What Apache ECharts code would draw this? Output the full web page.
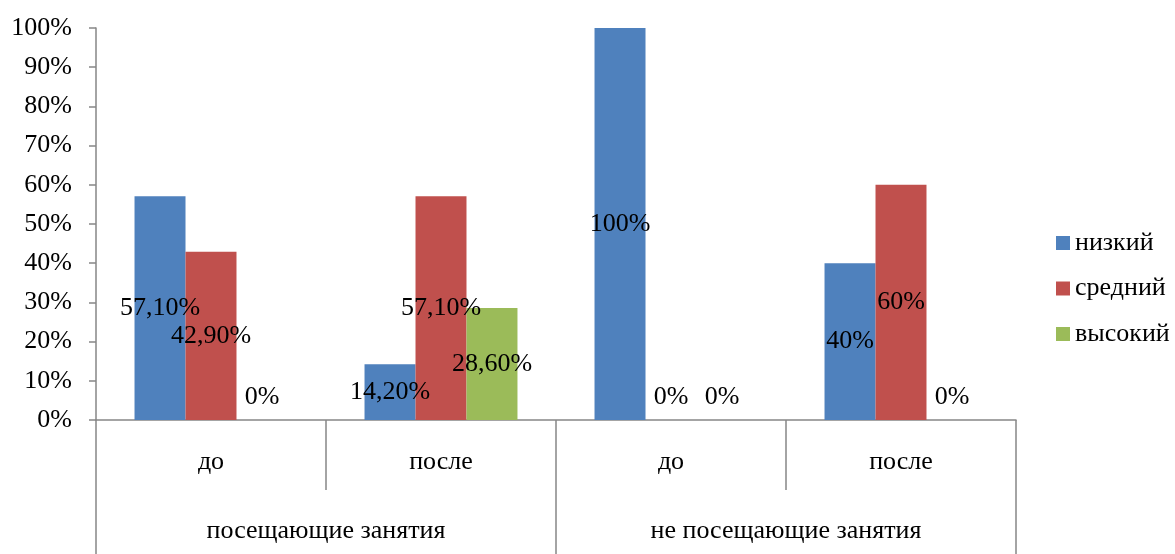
<!DOCTYPE html>
<html>
<head>
<meta charset="utf-8">
<script src="https://cdn.jsdelivr.net/npm/echarts@6/dist/echarts.min.js"></script>
<style>
html,body{margin:0;padding:0;background:#fff;}
#c{width:1175px;height:554px;}
</style>
</head>
<body>
<div id="c"></div>
<script>
const subCategories = ['до', 'после', 'до', 'после'];
const groupCategories = ['посещающие занятия', 'не посещающие занятия'];
const seriesNames = ['низкий', 'средний', 'высокий'];
const lowValues = [57.1, 14.2, 100, 40];
const midValues = [42.9, 57.1, 0, 60];
const highValues = [0, 28.6, 0, 0];
const yTicks = [0, 10, 20, 30, 40, 50, 60, 70, 80, 90, 100];

const colors = ['#4F81BD', '#C0504D', '#9BBB59'];
const FONT = '"Liberation Serif", "Times New Roman", serif';
const FS = 26;
const AXIS_COLOR = '#868686';

function fmt(v) {
  return (v % 1 === 0 ? String(v) : v.toFixed(2).replace('.', ',')) + '%';
}

function buildData(values) {
  return values.map(v => v === 0
    ? { value: v, label: { position: 'top', distance: 10 } }
    : v);
}

const allValues = [lowValues, midValues, highValues];

const chart = echarts.init(document.getElementById('c'), null, { renderer: 'canvas' });
chart.setOption({
  animation: false,
  backgroundColor: '#fff',
  color: colors,
  grid: { left: 96, right: 159, top: 28, bottom: 134, containLabel: false },
  legend: {
    orient: 'vertical',
    left: 1056,
    top: 230,
    padding: 0,
    itemWidth: 14,
    itemHeight: 14,
    itemGap: 19.5,
    icon: 'rect',
    data: seriesNames,
    textStyle: { fontFamily: FONT, fontSize: FS, color: '#000' }
  },
  xAxis: [
    {
      type: 'category',
      data: subCategories,
      position: 'bottom',
      axisLine: { show: true, lineStyle: { color: AXIS_COLOR, width: 1.5 } },
      axisTick: { show: true, length: 70, interval: 0, alignWithLabel: false, lineStyle: { color: AXIS_COLOR, width: 1.5 } },
      axisLabel: { margin: 29, fontFamily: FONT, fontSize: FS, color: '#000', interval: 0 }
    },
    {
      type: 'category',
      data: groupCategories,
      position: 'bottom',
      axisLine: { show: false },
      axisTick: { show: true, length: 134, interval: 0, alignWithLabel: false, lineStyle: { color: AXIS_COLOR, width: 1.5 } },
      axisLabel: { margin: 98, fontFamily: FONT, fontSize: FS, color: '#000', interval: 0 }
    }
  ],
  yAxis: {
    type: 'value',
    min: yTicks[0],
    max: yTicks[yTicks.length - 1],
    interval: yTicks[1] - yTicks[0],
    splitLine: { show: false },
    axisLine: { show: true, lineStyle: { color: AXIS_COLOR, width: 1.5 } },
    axisTick: { show: true, length: 7, lineStyle: { color: AXIS_COLOR, width: 1.5 } },
    axisLabel: {
      margin: 24,
      fontFamily: FONT,
      fontSize: FS,
      color: '#000',
      formatter: v => v + '%'
    }
  },
  series: seriesNames.map((name, i) => ({
    name: name,
    type: 'bar',
    xAxisIndex: 0,
    barGap: '0%',
    barCategoryGap: '33.5%',
    data: buildData(allValues[i]),
    itemStyle: { color: colors[i] },
    label: {
      show: true,
      position: 'inside',
      color: '#000',
      fontFamily: FONT,
      fontSize: FS,
      formatter: p => fmt(p.value)
    }
  }))
});
</script>
</body>
</html>
